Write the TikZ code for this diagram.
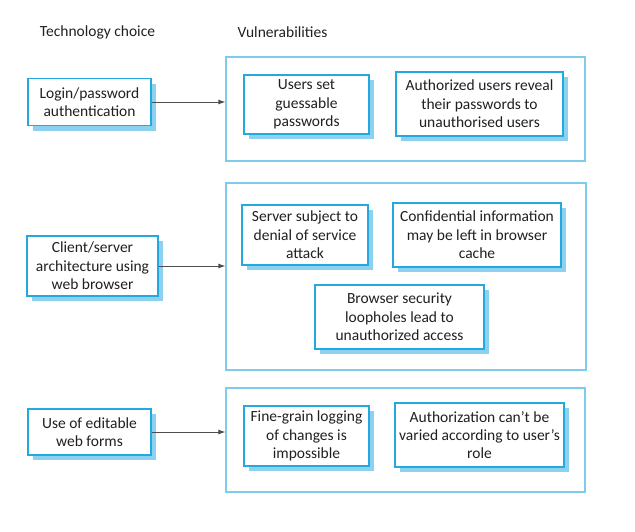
\documentclass[tikz,border=0pt]{standalone}
\usepackage{fontspec}
\setmainfont{Carlito}
\usetikzlibrary{shadows,arrows.meta}
\definecolor{boxblue}{RGB}{35,168,224}
\definecolor{outerblue}{RGB}{125,204,236}
\definecolor{shadowblue}{RGB}{140,210,240}
\definecolor{txt}{RGB}{35,31,32}
\tikzset{
  x=1pt,y=-1pt,
  every node/.style={font=\fontsize{15.5}{18.4}\selectfont,text=txt,align=center,inner sep=0pt},
  ibox/.style={draw=boxblue,line width=1.6pt,fill=white,
    general shadow={fill=shadowblue,shadow xshift=5pt,shadow yshift=-5pt}},
  obox/.style={draw=outerblue,line width=1.2pt},
  conn/.style={draw=txt!80,line width=0.9pt,-{Latex[length=7pt,width=5pt]}}
}
\newcommand{\ib}[6]{\node[ibox,minimum width=#4,minimum height=#5] (#1) at (#2,#3) {#6};}
\begin{document}
\begin{tikzpicture}
\useasboundingbox (0,0) rectangle (635,531);
\node (t1) at (97.5,32) {Technology choice};
\node (t2) at (282.5,32) {Vulnerabilities};
% outer boxes
\node[obox,minimum width=359,minimum height=104] (o1) at (405.5,109) {};
\node[obox,minimum width=360,minimum height=187] (o2) at (406,276.5) {};
\node[obox,minimum width=359,minimum height=104] (o3) at (405.5,440) {};
% left boxes
\ib{l1}{89.5}{102}{123}{47}{Login/password\\authentication}
\ib{l2}{92.5}{266}{131}{60}{Client/server\\architecture using\\web browser}
\ib{l3}{89.5}{432}{123}{46}{Use of editable\\web forms}
% inner boxes
\ib{a1}{306.5}{104.5}{125}{59}{Users set\\guessable\\passwords}
\ib{b1}{479.5}{104}{167}{64}{Authorized users reveal\\their passwords to\\unauthorised users}
\ib{a2}{305}{235}{126}{60}{Server subject to\\denial of service\\attack}
\ib{b2}{477}{235}{168}{64}{Confidential information\\may be left in browser\\cache}
\ib{c2}{399.5}{317}{169}{64}{Browser security\\loopholes lead to\\unauthorized access}
\ib{a3}{306.5}{436}{125}{60}{Fine-grain logging\\of changes is\\impossible}
\ib{b3}{479.5}{435}{169}{64}{Authorization can’t be\\varied according to user’s\\role}
% connectors
\draw[conn] (l1.east) -- (l1.east -| o1.west);
\draw[conn] (l2.east) -- (l2.east -| o2.west);
\draw[conn] (l3.east) -- (l3.east -| o3.west);
\end{tikzpicture}
\end{document}
